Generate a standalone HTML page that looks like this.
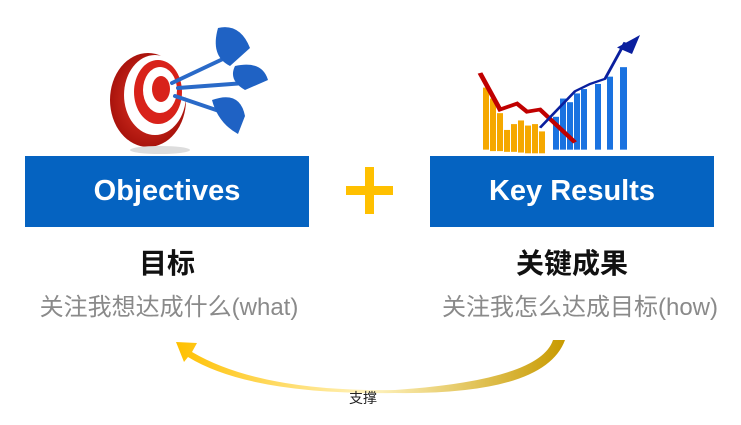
<!DOCTYPE html>
<html><head><meta charset="utf-8"><style>
body{margin:0;width:741px;height:425px;background:#fff;position:relative;overflow:hidden;font-family:"Liberation Sans","Noto Sans CJK SC",sans-serif}
.box{position:absolute;top:156px;height:71px;width:284px;background:#0563c1;color:#fff;font-weight:bold;font-size:29px;display:flex;align-items:center;justify-content:center}
.t{position:absolute;text-align:center;font-weight:bold;font-size:28px;color:#111}
.s{position:absolute;text-align:center;font-size:24px;color:#8a8a8a;white-space:nowrap}
</style></head><body>
<svg width="741" height="425" style="position:absolute;left:0;top:0">
<defs>
<radialGradient id="rg" cx="0.5" cy="0.5" r="0.5"><stop offset="0" stop-color="#e53a2a"/><stop offset="1" stop-color="#a9130c"/></radialGradient>
<linearGradient id="ag" x1="0" x2="1"><stop offset="0" stop-color="#ffc000"/><stop offset="0.5" stop-color="#fff3c0"/><stop offset="1" stop-color="#c89a00"/></linearGradient>
</defs>
<g transform="translate(0,-38)">
<ellipse cx="148" cy="138" rx="38" ry="47" fill="url(#rg)"/>
<ellipse cx="155" cy="133" rx="31" ry="40" fill="#fff"/>
<ellipse cx="158" cy="130" rx="24" ry="32" fill="#d8221a"/>
<ellipse cx="160" cy="128" rx="17" ry="23" fill="#fff"/>
<ellipse cx="161" cy="127" rx="9" ry="13" fill="#d8221a"/>
<ellipse cx="160" cy="188" rx="30" ry="4" fill="#ddd"/>
</g>
<g transform="translate(0,-22)">
<g stroke="#2a6ac8" stroke-width="4" stroke-linecap="round">
<line x1="172" y1="105" x2="225" y2="80"/><line x1="178" y1="110" x2="245" y2="105"/><line x1="175" y1="118" x2="225" y2="135"/></g>
<g fill="#1f62c4">
<path d="M218 50 Q240 45 250 70 L230 88 Q210 78 218 50Z"/>
<path d="M235 88 Q262 82 268 102 L245 112 Q228 102 235 88Z"/>
<path d="M212 122 Q240 112 245 138 L238 156 Q218 145 212 122Z"/></g>
</g>
<g transform="translate(0,7.3) scale(1,0.73)">
<g fill="#f5a800">
<rect x="483" y="110" width="6" height="85"/><rect x="490" y="125" width="6" height="72"/><rect x="497" y="145" width="6" height="52"/><rect x="504" y="168" width="6" height="30"/><rect x="511" y="160" width="6" height="38"/><rect x="518" y="155" width="6" height="44"/><rect x="525" y="162" width="6" height="38"/><rect x="532" y="160" width="6" height="40"/><rect x="539" y="170" width="6" height="30"/></g>
<g fill="#1a72e0">
<rect x="553" y="150" width="6" height="45"/><rect x="560" y="125" width="6" height="70"/><rect x="567" y="130" width="6" height="65"/><rect x="574" y="118" width="6" height="77"/><rect x="581" y="112" width="6" height="83"/><rect x="595" y="105" width="6" height="90"/><rect x="607" y="95" width="6" height="100"/><rect x="620" y="82" width="7" height="113"/></g>
<polyline points="480,90 500,140 517,132 527,143 540,140 575,185" fill="none" stroke="#c00000" stroke-width="5"/>
<polyline points="540,165 575,115 590,105 605,98 625,48" fill="none" stroke="#0a1f9e" stroke-width="3"/>
<path d="M617 55 L640 38 L632 64Z" fill="#0a1f9e"/>
</g>
<rect x="346" y="186" width="47" height="9" fill="#ffc000"/><rect x="365" y="167" width="9" height="47" fill="#ffc000"/>
<path d="M192 352 Q260 392 395 390 Q540 380 553 340 L565 340 Q545 395 395 393 Q250 395 188 357 L184 362 L176 342 L197 343Z" fill="url(#ag)"/>
</svg>
<div class="box" style="left:25px">Objectives</div>
<div class="box" style="left:430px">Key Results</div>
<div class="t" style="left:25px;width:284px;top:242px">目标</div>
<div class="t" style="left:430px;width:284px;top:242px">关键成果</div>
<div class="s" style="left:20px;width:298px;top:287px">关注我想达成什么(what)</div>
<div class="s" style="left:430px;width:300px;top:287px">关注我怎么达成目标(how)</div>
<div style="position:absolute;left:349px;top:388px;font-size:14px;color:#222">支撑</div>
</body></html>
